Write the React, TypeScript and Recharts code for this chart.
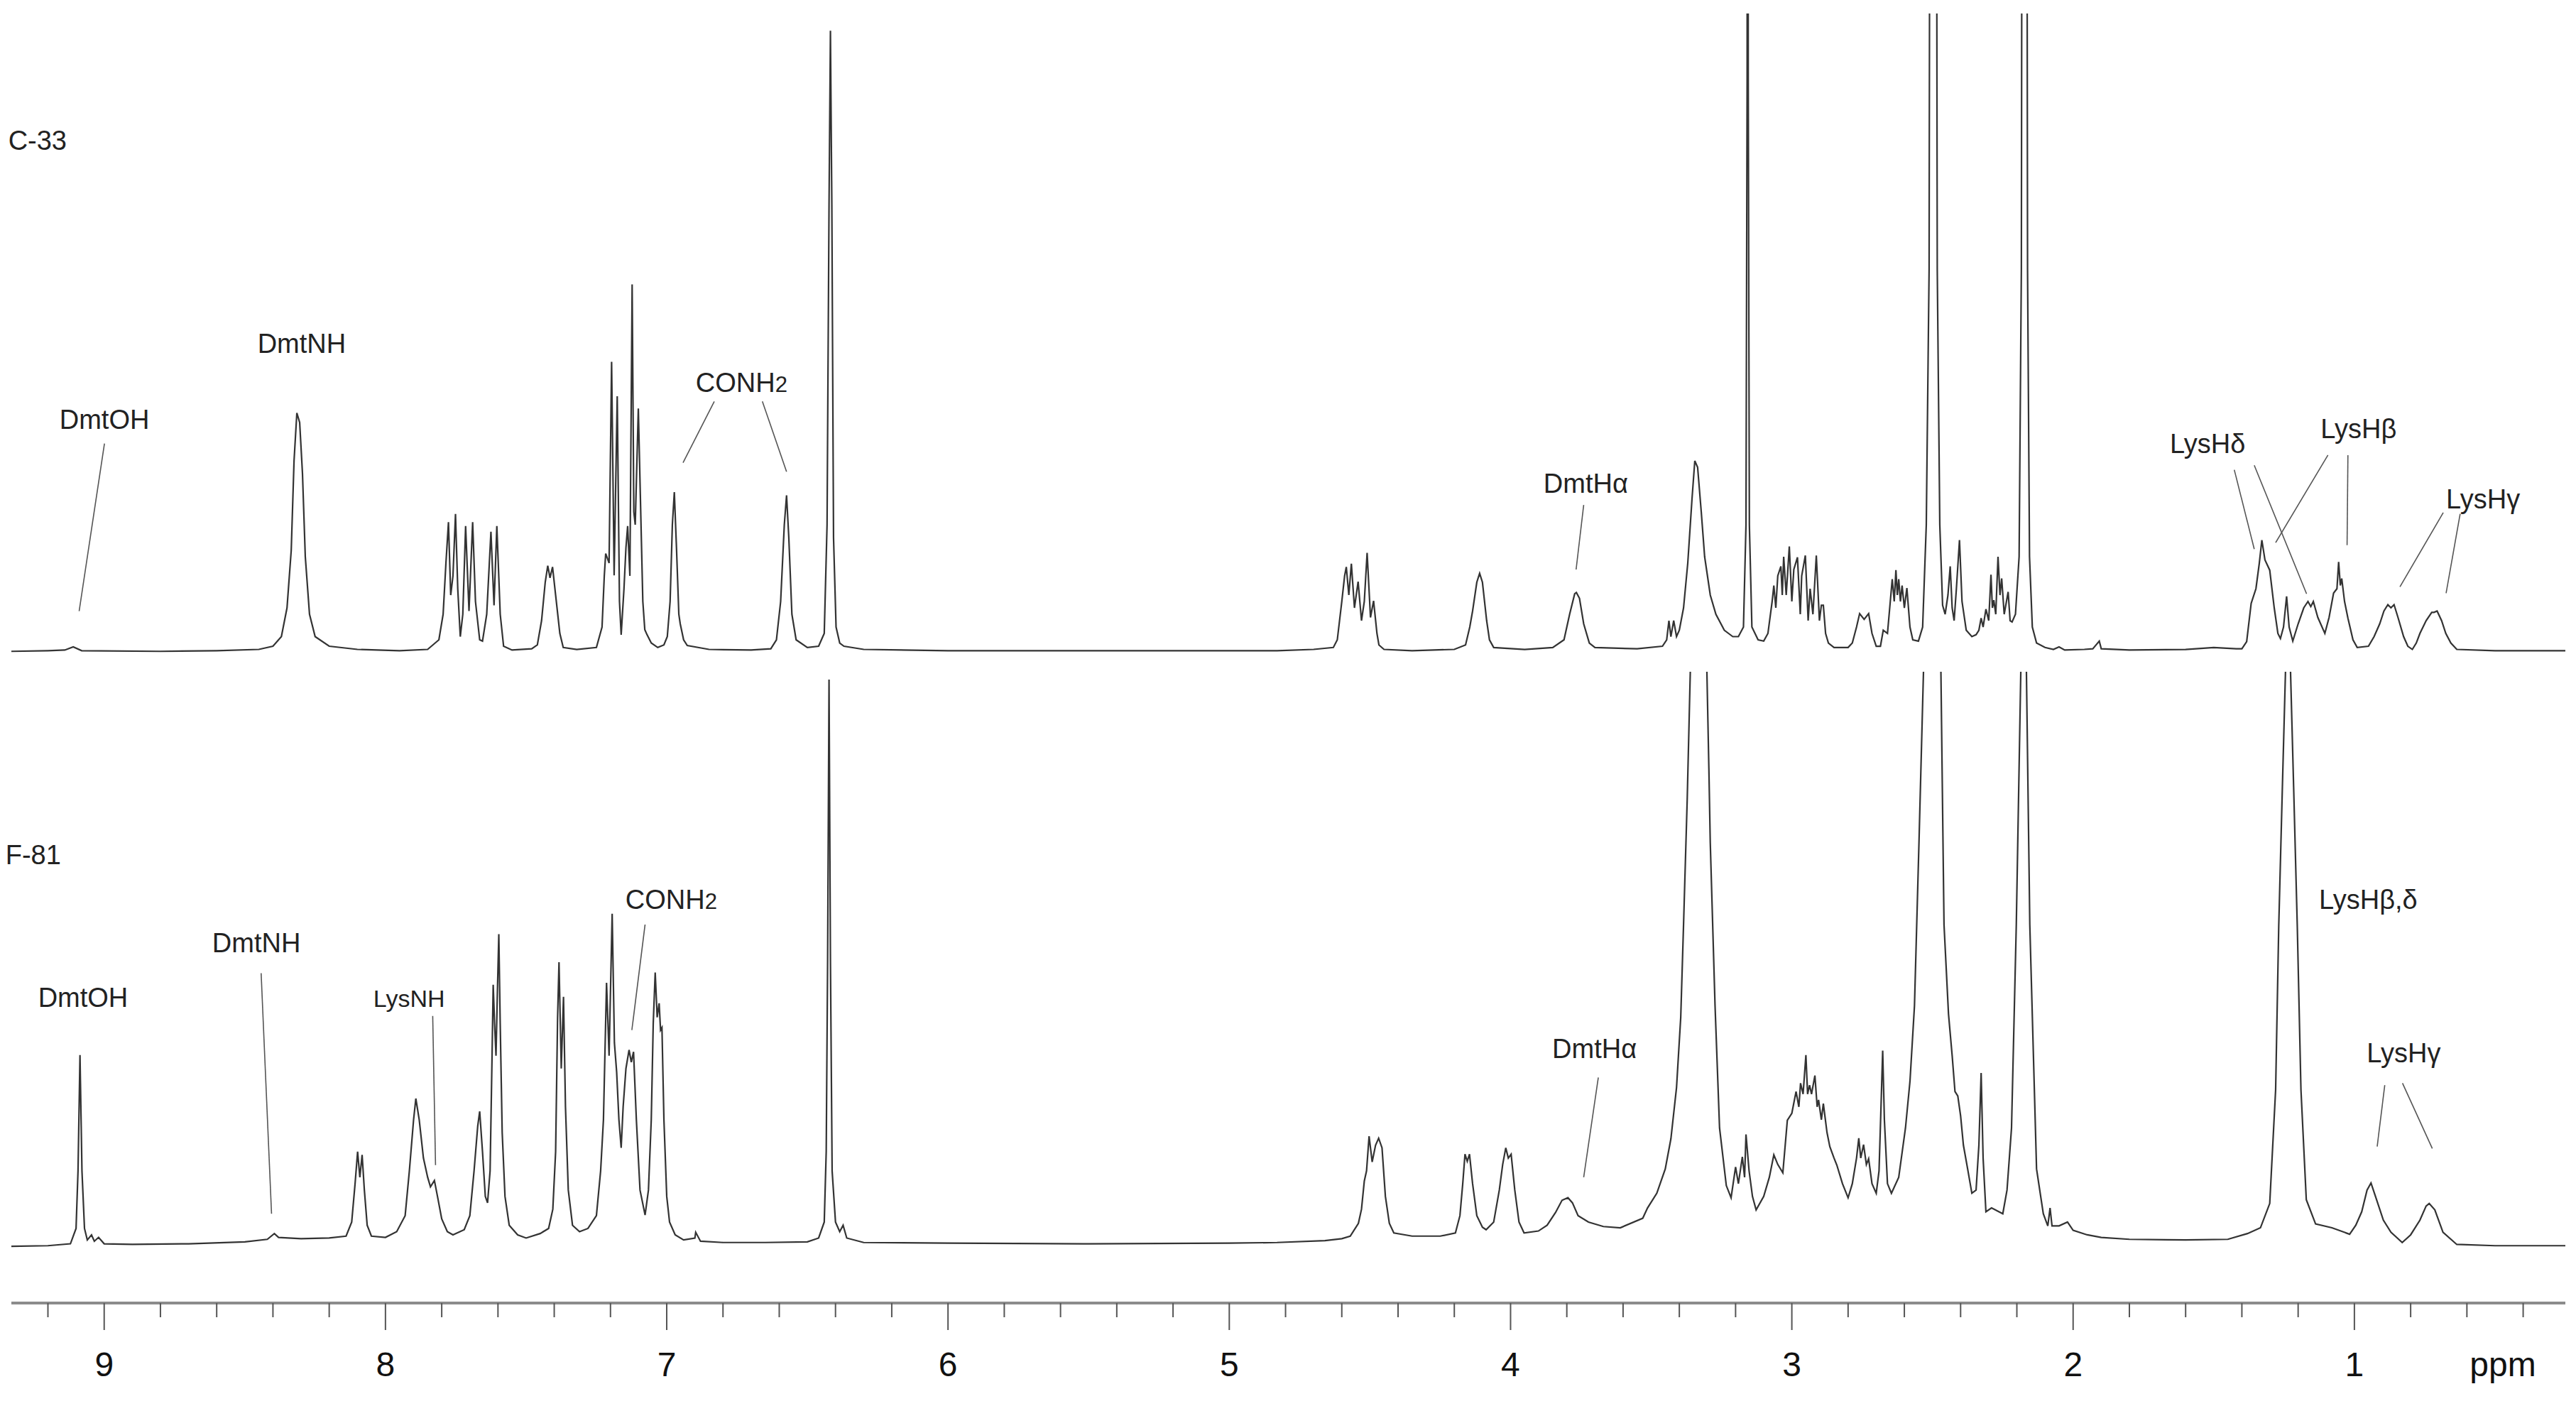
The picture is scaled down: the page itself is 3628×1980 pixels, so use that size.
import React from 'react';
import { ComposedChart, Line, XAxis, YAxis, ReferenceLine, ReferenceDot } from 'recharts';

type Pt = [number, number];

// ---- C-33 spectrum (ppm, relative intensity) ----
const C33_LOWFIELD: Pt[] = [
  [9.33,0.2],[9.2,0.3],[9.14,0.4],[9.11,0.9],[9.08,0.3],[8.8,0.2],[8.6,0.3],[8.45,0.5],[8.4,1.0],[8.37,2.5],[8.35,7],[8.335,16],[8.325,30],[8.315,37.5],[8.305,36],[8.295,28],[8.285,15],[8.27,6],[8.25,2.5],[8.2,1.0],[8.1,0.5],[7.95,0.3],[7.85,0.5],[7.81,2],[7.795,6],[7.785,14],[7.776,20.4],[7.768,9],[7.76,12],[7.751,21.7],[7.743,10],[7.734,2.5],[7.725,6],[7.715,19.8],[7.703,6.5],[7.69,20.4],[7.68,8],[7.665,2],[7.655,1.8],[7.64,6],[7.625,18.9],[7.614,7.4],[7.604,19.8],[7.592,6],[7.58,1.0],[7.55,0.4],[7.48,0.6],[7.46,1.2],[7.445,5],[7.432,11],[7.423,13.6],[7.415,11.7],[7.406,13.4],[7.395,9],[7.38,3],[7.368,0.8],[7.32,0.5],
];
const C33_AROMATIC: Pt[] = [
  [7.25,0.8],[7.23,4],[7.222,12],[7.217,15.5],[7.205,14],[7.196,45.5],[7.187,12.1],[7.176,40.1],[7.168,8],[7.162,2.8],[7.152,10],[7.145,16.4],[7.139,19.8],[7.131,12],[7.123,57.6],[7.117,22],[7.112,20],[7.101,38.2],[7.094,24.9],[7.085,8],[7.078,3.6],[7.07,2.8],[7.055,1.5],[7.032,0.8],[7.01,1.2],[6.998,2.5],[6.988,8],[6.98,20],[6.973,25.1],[6.965,16],[6.957,6],[6.952,4.5],[6.94,2],[6.927,1.1],[6.85,0.5],[6.7,0.4],[6.63,0.6],[6.61,2],[6.595,8],[6.582,20],[6.574,24.6],[6.566,18],[6.555,6],[6.54,2],[6.5,0.8],[6.46,1.0],[6.44,3],[6.43,20],[6.423,70],[6.418,97.3],[6.413,70],[6.407,18],[6.398,4],[6.385,1.5],[6.37,1.0],[6.3,0.5],
];
const C33_MIDFIELD: Pt[] = [
  [6.0,0.3],[5.5,0.3],[5.0,0.3],[4.83,0.3],[4.7,0.5],[4.63,0.8],[4.616,2],[4.6,8],[4.59,12],[4.584,13.4],[4.575,9],[4.566,13.9],[4.555,7],[4.542,11.1],[4.53,5],[4.52,8],[4.51,15.6],[4.498,5.5],[4.487,8.1],[4.475,3],[4.468,1.2],[4.45,0.5],[4.35,0.3],[4.2,0.5],[4.16,1.2],[4.145,4],[4.135,6.5],[4.12,11],[4.11,12.4],[4.1,11],[4.085,5],[4.075,2],[4.06,0.8],[3.95,0.5],[3.85,0.8],[3.81,2],[3.79,6],[3.772,9.2],[3.766,9.4],[3.755,8.5],[3.74,4.5],[3.72,1.5],[3.7,0.8],[3.55,0.6],[3.46,1.0],[3.445,2.0],[3.437,5.0],[3.43,2.5],[3.42,5.0],[3.41,2.5],
];
const C33_HIGHFIELD: Pt[] = [
  [3.4,3.5],[3.385,7],[3.37,14],[3.355,24],[3.345,30],[3.335,29],[3.322,22],[3.31,15],[3.29,9],[3.27,6],[3.24,3.5],[3.21,2.5],[3.19,2.5],[3.172,4],[3.163,20],[3.159,90],[3.157,250],[3.155,90],[3.151,20],[3.142,4],[3.12,2],[3.1,1.8],[3.085,3],[3.07,8],[3.064,10.5],[3.057,7],[3.05,12],[3.039,13.5],[3.034,9],[3.029,15],[3.02,9],[3.009,16.6],[3.0,8],[2.993,13],[2.98,14.9],[2.97,6],[2.965,12],[2.952,15.2],[2.942,5],[2.935,10],[2.925,6],[2.913,15.2],[2.902,5],[2.895,7.4],[2.888,7.4],[2.88,3],[2.87,1.5],[2.85,0.8],[2.8,0.8],[2.785,1.5],[2.77,4],[2.759,6.1],[2.743,5.2],[2.727,6.1],[2.715,3],[2.7,1.0],[2.685,1.0],[2.675,3.5],[2.66,3],[2.65,8],[2.643,11.5],[2.636,8],[2.63,12.9],[2.625,9],[2.62,11.5],[2.614,8],[2.608,10.5],[2.6,7],[2.591,10.1],[2.58,4],[2.57,2],[2.55,1.8],[2.535,4],[2.522,20],[2.512,60],[2.505,250],[2.498,300],[2.49,250],[2.483,60],[2.474,20],[2.464,7.4],[2.455,6],[2.445,9],[2.437,13.5],[2.43,7],[2.423,5],[2.415,10],[2.404,17.6],[2.395,8],[2.38,3.5],[2.36,2.5],[2.345,2.8],[2.335,3.5],[2.327,5.4],[2.32,4],[2.31,6.8],[2.3,5],[2.292,12.2],[2.287,7],[2.282,8.2],[2.275,6],[2.267,15],[2.26,9],[2.254,11.6],[2.245,6],[2.231,9.5],[2.224,5],[2.217,4.8],[2.205,6],[2.192,15],[2.184,60],[2.178,250],[2.168,250],[2.162,60],[2.155,15],[2.145,4],[2.13,1.5],[2.1,0.8],[2.07,0.5],[2.05,0.9],[2.03,0.4],[1.96,0.5],[1.93,0.6],[1.907,1.8],[1.9,0.6],[1.8,0.4],[1.6,0.5],[1.5,0.8],[1.42,0.6],
];
const C33_LYSINE: Pt[] = [
  [1.4,0.6],[1.383,1.7],[1.367,7.7],[1.35,10],[1.338,14],[1.329,17.6],[1.318,14.5],[1.301,12.9],[1.285,7],[1.272,3],[1.263,2.2],[1.252,4],[1.241,8.8],[1.232,4],[1.219,1.8],[1.2,4.5],[1.18,7],[1.165,8.0],[1.155,7.2],[1.146,8.0],[1.13,5.5],[1.105,3.0],[1.09,5.5],[1.074,9.3],[1.062,10],[1.056,14.2],[1.05,10.5],[1.045,11.6],[1.035,8],[1.023,5.4],[1.005,2],[0.99,0.8],[0.95,1],[0.93,2.5],[0.91,4.5],[0.895,6.5],[0.881,7.5],[0.87,7],[0.859,7.5],[0.845,5.5],[0.825,2.5],[0.81,1],[0.794,0.5],[0.78,1.5],[0.767,3],[0.745,5],[0.725,6.3],[0.717,6.3],[0.706,6.5],[0.69,5],[0.675,3],[0.657,1.5],[0.636,0.5],[0.5,0.3],[0.25,0.3],
];

// ---- F-81 spectrum (ppm, relative intensity) ----
const F81_LOWFIELD: Pt[] = [
  [9.33,0.2],[9.2,0.3],[9.12,0.6],[9.1,3],[9.093,12],[9.086,30.1],[9.079,12],[9.07,3],[9.06,1.2],[9.045,2],[9.035,1],[9.02,1.6],[9.0,0.6],[8.9,0.5],[8.7,0.6],[8.5,0.9],[8.42,1.3],[8.395,2.2],[8.38,1.6],[8.3,1.4],[8.2,1.5],[8.14,1.8],[8.12,4],[8.108,10],[8.099,15],[8.091,11],[8.083,14.5],[8.075,9],[8.065,3.5],[8.05,1.8],[8.0,1.6],[7.96,2.5],[7.93,5],[7.915,12],[7.9,20],[7.892,23.3],[7.88,20],[7.865,14],[7.85,11],[7.84,9.5],[7.826,10.5],[7.815,8],[7.8,4.5],[7.78,2.5],[7.76,2],[7.72,2.8],[7.7,5],[7.685,12],[7.672,19],[7.665,21.3],[7.655,15],[7.645,8],[7.637,7],[7.628,12],[7.621,30],[7.617,41.1],[7.612,35],[7.607,30],[7.602,40],[7.597,49],[7.592,35],[7.585,18],[7.575,8],[7.56,3.5],[7.53,2],[7.5,1.5],[7.45,2.2],[7.42,3],[7.405,6],[7.395,15],[7.388,36],[7.383,44.6],[7.375,28],[7.367,39.2],[7.36,22],[7.35,9],[7.335,3.5],[7.31,2.5],
];
const F81_AROMATIC: Pt[] = [
  [7.28,3],[7.25,5],[7.235,12],[7.225,20],[7.214,41.4],[7.205,30],[7.194,52.2],[7.186,32],[7.178,27.4],[7.17,20],[7.162,15.6],[7.155,22],[7.145,28],[7.134,30.9],[7.126,29],[7.118,30.6],[7.108,20],[7.095,9],[7.077,5.1],[7.065,9],[7.055,20],[7.048,35],[7.041,43],[7.034,36],[7.027,38.2],[7.022,34],[7.017,34.4],[7.01,20],[7.0,8],[6.99,4],[6.97,2],[6.94,1.2],[6.9,1.5],[6.897,2.4],[6.88,1.0],[6.8,0.8],[6.65,0.8],[6.5,0.9],[6.46,1.5],[6.44,4],[6.433,15],[6.428,45],[6.423,88.8],[6.418,45],[6.412,12],[6.4,4],[6.385,2.5],[6.373,3.5],[6.36,1.5],[6.3,0.8],
];
const F81_MIDFIELD: Pt[] = [
  [6.0,0.7],[5.5,0.6],[5.0,0.7],[4.83,0.8],[4.66,1.1],[4.6,1.4],[4.57,1.8],[4.541,3.8],[4.53,6],[4.52,10.4],[4.512,12],[4.503,17.4],[4.492,13.4],[4.48,16],[4.469,17.1],[4.457,15.6],[4.445,8],[4.431,3.8],[4.415,2.3],[4.35,1.8],[4.25,1.8],[4.196,2.3],[4.18,5],[4.17,10],[4.162,14.6],[4.154,13.5],[4.146,14.6],[4.135,10],[4.12,5],[4.1,3.2],[4.087,2.8],[4.06,4],[4.04,9],[4.028,13],[4.017,15.6],[4.008,14],[3.998,14.6],[3.985,9],[3.97,4],[3.952,2.3],[3.901,2.6],[3.87,3.5],[3.84,5.5],[3.817,7.4],[3.796,7.8],[3.78,7],[3.76,5],[3.723,4.0],[3.67,3.3],[3.61,3.1],[3.53,4.6],[3.513,6.2],[3.48,8.5],[3.45,12.3],[3.43,17],[3.41,25],[3.395,36],[3.385,50.5],[3.372,70],[3.361,90],[3.345,160],[3.33,200],[3.315,160],[3.302,90],[3.295,75],[3.29,63.3],[3.273,37.8],[3.257,18.7],[3.233,9.7],[3.216,7.8],[3.2,12.6],[3.19,10],[3.176,14.2],[3.168,11],[3.163,17.7],[3.152,12],[3.14,8],[3.127,5.9],[3.1,8],[3.08,11],[3.064,14.5],[3.05,13],[3.032,11.7],[3.016,19.9],[3.0,21],[2.985,24.4],[2.975,22],[2.969,25.7],[2.96,24],[2.95,30.1],[2.944,24],[2.937,25.4],[2.93,24],[2.918,26.9],[2.91,22],[2.905,23.1],[2.895,20],[2.888,22.5],[2.875,18],[2.865,15.8],[2.85,14],[2.84,12.9],[2.82,10],[2.8,7.8],
];
const F81_HIGHFIELD: Pt[] = [
  [2.785,10],[2.77,14],[2.762,17.1],[2.755,14],[2.745,16.1],[2.735,13],[2.727,13.9],[2.715,10],[2.7,8.5],[2.69,12],[2.683,22],[2.677,30.8],[2.671,20],[2.66,10],[2.646,8.5],[2.62,11],[2.596,18.7],[2.58,26],[2.564,37.8],[2.548,63.3],[2.532,90],[2.515,200],[2.5,250],[2.485,200],[2.47,90],[2.459,50.5],[2.443,36.5],[2.43,30],[2.42,24.4],[2.41,23.7],[2.4,20.6],[2.39,16],[2.375,12.3],[2.36,8.5],[2.345,9],[2.335,16],[2.327,27.3],[2.32,14],[2.31,5.6],[2.29,6.2],[2.25,5.3],[2.235,9],[2.219,18.7],[2.202,50.5],[2.186,90],[2.176,200],[2.166,90],[2.154,50.5],[2.13,12.3],[2.106,5.3],[2.09,3.4],[2.082,6.2],[2.075,3.4],[2.05,3.4],[2.02,4.0],[2.0,2.7],[1.95,2],[1.9,1.6],[1.8,1.3],[1.6,1.2],[1.45,1.3],
];
const F81_LYSINE: Pt[] = [
  [1.38,2.2],[1.334,3.1],[1.301,6.9],[1.28,24.7],[1.269,50.2],[1.256,72],[1.245,90],[1.236,100],[1.227,90],[1.216,72],[1.203,50.2],[1.19,24.7],[1.171,7.5],[1.138,3.7],[1.08,3.1],[1.017,2.1],[0.995,3.5],[0.974,5.6],[0.955,9],[0.941,10.1],[0.925,8],[0.897,4.3],[0.87,2.4],[0.83,0.8],[0.8,2],[0.767,4.3],[0.745,6.5],[0.734,6.9],[0.714,5.9],[0.685,2.4],[0.636,0.5],[0.5,0.3],[0.25,0.3],
];

// ---- axis ----
const PPM_DOMAIN: [number, number] = [0.25, 9.33];
const X_TICKS = [9.2, 9, 8.8, 8.6, 8.4, 8.2, 8, 7.8, 7.6, 7.4, 7.2, 7, 6.8, 6.6, 6.4, 6.2, 6, 5.8, 5.6, 5.4, 5.2, 5, 4.8, 4.6, 4.4, 4.2, 4, 3.8, 3.6, 3.4, 3.2, 3, 2.8, 2.6, 2.4, 2.2, 2, 1.8, 1.6, 1.4, 1.2, 1, 0.8, 0.6, 0.4];
const X_UNIT = 'ppm';

// ---- annotations (ppm, intensity) ----
type Note = { text: string; sub?: string; ppm: number; y: number; small?: boolean };
const TOP_NOTES: Note[] = [
  { text: 'C-33', ppm: 9.341, y: 78.7 },
  { text: 'DmtOH', ppm: 9.159, y: 35.0 },
  { text: 'DmtNH', ppm: 8.455, y: 46.9 },
  { text: 'CONH', sub: '2', ppm: 6.897, y: 40.8 },
  { text: 'DmtHα', ppm: 3.883, y: 25.0 },
  { text: 'LysHδ', ppm: 1.656, y: 31.2 },
  { text: 'LysHβ', ppm: 1.12, y: 33.6 },
  { text: 'LysHγ', ppm: 0.674, y: 22.6 },
];
const TOP_LEADERS: [number, number, number, number][] = [
  [8.999, 32.7, 9.089, 6.5],
  [6.831, 39.3, 6.942, 29.7],
  [6.66, 39.3, 6.574, 28.3],
  [3.74, 23.1, 3.767, 13.0],
  [1.427, 28.6, 1.356, 16.2],
  [1.356, 29.3, 1.17, 9.2],
  [1.094, 30.9, 1.28, 17.2],
  [1.023, 30.9, 1.026, 16.8],
  [0.684, 21.9, 0.838, 10.3],
  [0.624, 21.7, 0.674, 9.3],
];
const BOTTOM_NOTES: Note[] = [
  { text: 'F-81', ppm: 9.351, y: 59.9 },
  { text: 'DmtOH', ppm: 9.235, y: 37.6 },
  { text: 'DmtNH', ppm: 8.616, y: 46.2 },
  { text: 'LysNH', ppm: 8.043, y: 37.6, small: true },
  { text: 'CONH', sub: '2', ppm: 7.147, y: 52.9 },
  { text: 'DmtHα', ppm: 3.852, y: 29.6 },
  { text: 'LysHβ,δ', ppm: 1.126, y: 52.9 },
  { text: 'LysHγ', ppm: 0.956, y: 29.0 },
];
const BOTTOM_LEADERS: [number, number, number, number][] = [
  [8.442, 42.9, 8.405, 5.3],
  [7.832, 36.2, 7.822, 12.9],
  [7.077, 50.5, 7.124, 34.0],
  [3.688, 26.6, 3.74, 11.0],
  [0.892, 25.4, 0.919, 15.8],
  [0.829, 25.7, 0.723, 15.5],
];

const toRows = (pts: Pt[]) => pts.map(([ppm, v]) => ({ ppm, v }));
const C33 = toRows([...C33_LOWFIELD, ...C33_AROMATIC, ...C33_MIDFIELD, ...C33_HIGHFIELD, ...C33_LYSINE]);
const F81 = toRows([...F81_LOWFIELD, ...F81_AROMATIC, ...F81_MIDFIELD, ...F81_HIGHFIELD, ...F81_LYSINE]);

const FONT = '"Liberation Sans", Arial, Helvetica, sans-serif';
const W = 3612;
const MARGIN_X = { left: 8, right: 7 };

const noteShape = (n: Note) => (p: any) => {
  const size = n.small ? 34 : 38;
  return (
    <text x={p.cx} y={p.cy} fontSize={size} fill="#222" fontFamily={FONT}>
      {n.text}
      {n.sub ? <tspan fontSize={size * 0.82}>{n.sub}</tspan> : null}
    </text>
  );
};

const AxisTick = (props: any) => {
  const { x, y, payload } = props;
  const v = payload.value as number;
  const major = Math.abs(v - Math.round(v)) < 1e-6;
  return (
    <g>
      <line x1={x} x2={x} y1={y} y2={y + (major ? 38 : 20)} stroke="#555" strokeWidth={2} />
      {major ? (
        <text x={x} y={y + 103} textAnchor="middle" fontSize={48} fill="#111" fontFamily={FONT}>
          {String(Math.round(v))}
        </text>
      ) : null}
    </g>
  );
};

const renderNotes = (notes: Note[], leaders: [number, number, number, number][]) => [
  ...leaders.map((l, i) => (
    <ReferenceLine
      key={'l' + i}
      segment={[{ x: l[0], y: l[1] }, { x: l[2], y: l[3] }]}
      stroke="#555"
      strokeWidth={1.6}
      ifOverflow="visible"
    />
  )),
  ...notes.map((n, i) => (
    <ReferenceDot key={'n' + i} x={n.ppm} y={n.y} r={0} ifOverflow="visible" shape={noteShape(n)} />
  )),
];

export default function App() {
  return (
    <div style={{ position: 'relative', width: W, height: 1964, background: '#fff', fontFamily: FONT }}>
      <div style={{ position: 'absolute', left: 0, top: 0 }}>
        <ComposedChart width={W} height={932} data={C33} margin={{ top: 10.9, bottom: 0, ...MARGIN_X }}>
          <XAxis type="number" dataKey="ppm" domain={PPM_DOMAIN} reversed allowDataOverflow hide />
          <YAxis type="number" domain={[-2.33, 100]} allowDataOverflow hide />
          <Line
            type="linear"
            dataKey="v"
            stroke="#333"
            strokeWidth={2.2}
            dot={false}
            activeDot={false}
            isAnimationActive={false}
          />
          {renderNotes(TOP_NOTES, TOP_LEADERS)}
        </ComposedChart>
      </div>
      <div style={{ position: 'absolute', left: 0, top: 932 }}>
        <ComposedChart width={W} height={1032} data={F81} margin={{ top: 6, bottom: 0, ...MARGIN_X }}>
          <XAxis
            type="number"
            dataKey="ppm"
            domain={PPM_DOMAIN}
            reversed
            allowDataOverflow
            ticks={X_TICKS}
            interval={0}
            tickSize={0}
            tickMargin={0}
            tickLine={false}
            axisLine={{ stroke: '#8c8c8c', strokeWidth: 4 }}
            height={137}
            tick={(p: any) => <AxisTick {...p} />}
          />
          <YAxis type="number" domain={[-8.66, 90.01]} allowDataOverflow hide />
          <Line
            type="linear"
            dataKey="v"
            stroke="#333"
            strokeWidth={2.2}
            dot={false}
            activeDot={false}
            isAnimationActive={false}
          />
          {renderNotes(BOTTOM_NOTES, BOTTOM_LEADERS)}
          <ReferenceDot
            x={0.472}
            y={-20.1}
            r={0}
            ifOverflow="visible"
            shape={(p: any) => (
              <text x={p.cx} y={p.cy} textAnchor="middle" fontSize={48} fill="#111" fontFamily={FONT}>
                {X_UNIT}
              </text>
            )}
          />
        </ComposedChart>
      </div>
    </div>
  );
}
